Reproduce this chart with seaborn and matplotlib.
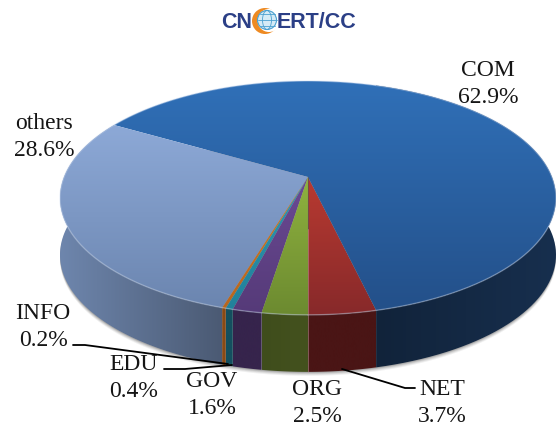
import numpy as np
import matplotlib
matplotlib.use('Agg')
import matplotlib.pyplot as plt
from matplotlib.patches import Polygon, Circle, Ellipse
import seaborn as sns

# shares, going anticlockwise from the front of the pie
names = ['NET', 'COM', 'others', 'INFO', 'EDU', 'GOV', 'ORG']
shares = [3.7, 62.9, 28.6, 0.2, 0.4, 1.6, 2.5]
share_labels = ['3.7%', '62.9%', '28.6%', '0.2%', '0.4%', '1.6%', '2.5%']

top_colors = [('#b93a31', '#87292a'), ('#3070b8', '#234f88'), ('#8eaad8', '#6a84ae'),
              ('#d47a25', '#b5651f'), ('#2c98b0', '#21809a'), ('#6b4a94', '#553a78'),
              ('#8fb23f', '#6c8a30')]
side_colors = [('#4a1515', '#4a1515'), ('#11233a', '#172f4e'), ('#6e86ad', '#4a5972'),
               ('#8a4a14', '#8a4a14'), ('#14505f', '#14505f'), ('#36244c', '#36244c'),
               ('#3f4d1c', '#44521e')]

label_pos = [(442, 403), (488, 84), (44, 137), (43, 327), (134, 378), (212, 395), (317, 403)]

# pie geometry in pixels
cx, cy = 308, 178
a, b, k = 244, 113.2, 0.179
depth = 57

sns.set_theme(style='white')
plt.rcParams['font.family'] = ['Liberation Serif', 'DejaVu Serif']

fig = plt.figure(figsize=(5.56, 4.27), dpi=100)
ax = fig.add_axes([0, 0, 1, 1])
ax.set_axis_off()


def rim(t):
    # t is degrees anticlockwise from the front, circle seen in perspective
    t = np.radians(t)
    u, v = np.sin(t), -np.cos(t)
    return cx + a * u / (1 + k * v), cy - b * v / (1 + k * v)


def paint(poly, c1, c2, horizontal, lo, hi, z):
    cmap = sns.blend_palette([c1, c2], as_cmap=True)
    grad = np.linspace(0, 1, 256)
    grad = grad.reshape(1, -1) if horizontal else grad.reshape(-1, 1)
    ext = (lo, hi, 427, 0) if horizontal else (0, 556, hi, lo)
    im = ax.imshow(grad, cmap=cmap, extent=ext, aspect='auto', origin='upper', zorder=z)
    p = Polygon(poly, closed=True, transform=ax.transData, fc='none', ec='none')
    ax.add_patch(p)
    im.set_clip_path(p)


edges = np.concatenate([[0], np.cumsum(shares) / np.sum(shares) * 360])

# soft shadow under the pie
ts = np.linspace(0, 360, 361)
xs, ys = rim(ts)
for off, al in [(4, 0.06), (3, 0.08), (2, 0.1), (1, 0.14)]:
    ax.add_patch(Polygon(np.c_[xs, ys + depth + off], closed=True, fc='black', ec='none', alpha=al, zorder=1))

for i in range(len(names)):
    ts = np.linspace(edges[i], edges[i + 1], 120)
    xs, ys = rim(ts)
    # side wall, the top face covers what is behind
    wall = np.r_[np.c_[xs, ys], np.c_[xs, ys + depth][::-1]]
    if names[i] == 'COM':
        paint(wall, side_colors[i][0], side_colors[i][1], True, 376, 556, 2)
    elif names[i] == 'others':
        paint(wall, side_colors[i][0], side_colors[i][1], True, 60, 226, 2)
    else:
        paint(wall, side_colors[i][0], side_colors[i][1], True, xs.min(), xs.max() + 0.1, 2)
    # top face
    face = np.r_[[[cx, cy]], np.c_[xs, ys]]
    lo = 82 if names[i] == 'COM' else (120 if names[i] == 'others' else cy)
    paint(face, top_colors[i][0], top_colors[i][1], False, lo, 316, 3)

# pale edge along the rim of the top face
ts = np.linspace(0, 360, 361)
xs, ys = rim(ts)
ax.plot(xs, ys, color='#c8d8f0', lw=1.0, alpha=0.4, zorder=4)
ax.plot([cx, cx], [cy, 230], color='#555555', lw=0.8, alpha=0.6, zorder=4)
ax.plot([cx, cx], [230, 373], color='#c0a0a0', lw=0.7, alpha=0.5, zorder=4)

# labels
for i in range(len(names)):
    ax.text(label_pos[i][0], label_pos[i][1], names[i] + '\n' + share_labels[i],
            fontsize=17, color='#151515', ha='center', va='center', linespacing=1.4, zorder=6)

# leader lines
ax.plot([73, 85, 228], [346, 346, 365], color='black', lw=1.3, zorder=5)
ax.plot([164, 185, 232], [370, 370, 366], color='black', lw=1.3, zorder=5)
ax.plot([342, 405, 415], [370, 389, 389], color='black', lw=1.3, zorder=5)

# logo
navy = '#2b3f86'
ax.text(236.5, 22, 'CN', fontsize=15.5, fontweight='bold', family='Liberation Sans', color=navy,
        ha='center', va='center', zorder=6)
ax.text(317, 22, 'ERT/CC', fontsize=15.5, fontweight='bold', family='Liberation Sans', color=navy,
        ha='center', va='center', zorder=6)
ax.add_patch(Circle((265, 22), 13, fc='#ee8a22', ec='none', zorder=5))
ax.add_patch(Circle((269, 21.5), 11.5, fc='white', ec='none', zorder=5.5))
ax.add_patch(Circle((267, 21), 9.5, fc='#d5ebf6', ec='#4aa0d0', lw=0.8, zorder=6))
ax.add_patch(Ellipse((267, 21), 9, 19, fc='none', ec='#4aa0d0', lw=0.6, zorder=7))
ax.plot([257.5, 276.5], [21, 21], color='#4aa0d0', lw=0.6, zorder=7)
ax.plot([259.5, 274.5], [15, 15], color='#4aa0d0', lw=0.6, zorder=7)
ax.plot([259.5, 274.5], [27, 27], color='#4aa0d0', lw=0.6, zorder=7)

ax.set_xlim(0, 556)
ax.set_ylim(427, 0)
fig.savefig('out.png', dpi=100, facecolor='white')
